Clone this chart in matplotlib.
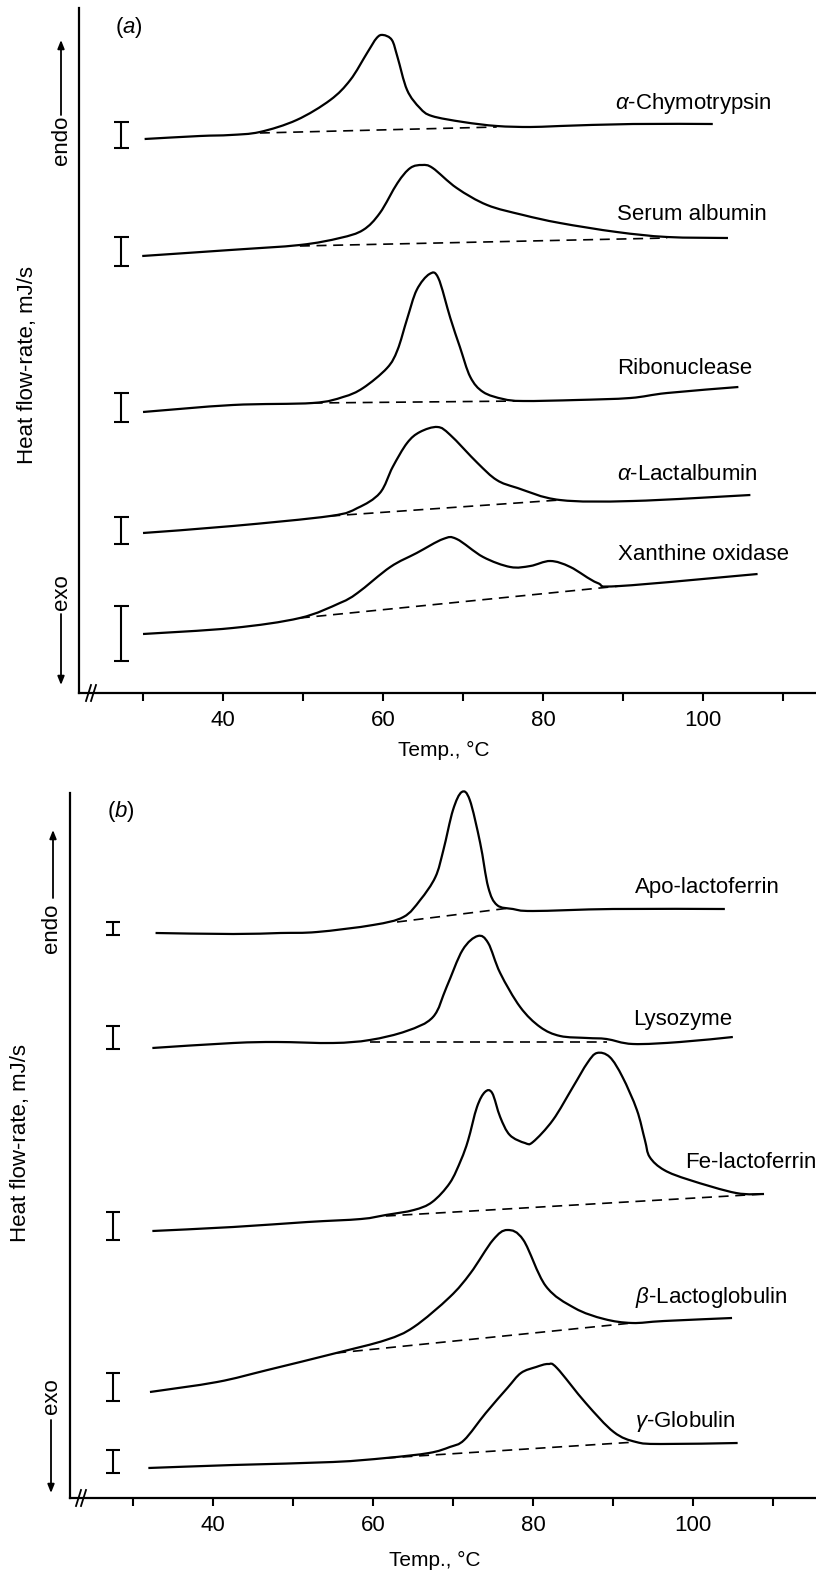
import matplotlib
matplotlib.use("Agg")
import matplotlib.pyplot as plt
import numpy as np
from matplotlib.lines import Line2D
from matplotlib.path import Path
from matplotlib.patches import PathPatch, FancyArrowPatch

plt.rcParams['font.family'] = ['Liberation Sans', 'DejaVu Sans']
plt.rcParams['mathtext.fontset'] = 'custom'
plt.rcParams['mathtext.rm'] = 'Liberation Sans'
plt.rcParams['mathtext.it'] = 'Liberation Sans:italic'

W, H = 816, 1575

# ---------------- panel (a) data: temperature (C) and heat flow (arbitrary, offset traces)
chymo_t = [30.2, 37.1, 40.9, 44.6, 49.2, 53.4, 55.9, 58.0, 59.2, 60.0, 61.1, 61.8, 63.0, 64.6, 66.1, 70.0, 74.2, 78.4, 82.1, 91.2, 101.2]
chymo_h = [554, 557, 558, 561, 573, 593, 613, 640, 655, 658, 653, 636, 603, 585, 577, 571, 567, 566, 567, 569, 569]
chymo_base = ([44.6, 74.2], [560, 566])

serum_t = [29.9, 40.9, 49.6, 54.6, 57.5, 59.6, 61.8, 63.4, 64.9, 66.2, 69.2, 73.0, 77.5, 82.1, 89.2, 95.5, 103.1]
serum_h = [437, 443, 448, 455, 463, 480, 510, 525, 528, 525, 505, 488, 478, 470, 461, 456, 455]
serum_base = ([49.6, 95.5], [447, 455])

ribo_t = [30.0, 41.2, 51.2, 55.0, 57.5, 60.5, 61.8, 63.0, 64.2, 65.8, 66.9, 68.4, 69.6, 70.9, 72.5, 75.0, 77.5, 84.2, 90.9, 95.5, 104.4]
ribo_h = [281, 288, 290, 296, 305, 325, 343, 374, 403, 419, 415, 375, 346, 316, 301, 294, 292, 293, 295, 300, 306]
ribo_base = ([51.2, 77.5], [290, 292])

lact_t = [30.0, 41.2, 53.4, 56.8, 59.6, 61.2, 63.0, 64.6, 66.8, 68.4, 71.8, 74.2, 76.8, 82.1, 91.2, 105.9]
lact_h = [160, 167, 177, 185, 200, 226, 250, 261, 266, 258, 230, 213, 205, 193, 192, 198]
lact_base = ([53.4, 82.1], [177, 193])

xan_t = [30.0, 41.2, 49.6, 54.6, 56.8, 60.9, 64.2, 67.5, 69.2, 72.5, 75.9, 78.4, 80.9, 83.4, 86.8, 89.6, 106.8]
xan_h = [59, 65, 75, 90, 100, 126, 140, 154, 154, 136, 126, 127, 132, 126, 110, 107, 119]
xan_base = ([49.6, 89.6], [75, 107])

names_a = [r'$\alpha$-Chymotrypsin', 'Serum albumin', 'Ribonuclease',
           r'$\alpha$-Lactalbumin', 'Xanthine oxidase']
curves_a = [(chymo_t, chymo_h, chymo_base), (serum_t, serum_h, serum_base),
            (ribo_t, ribo_h, ribo_base), (lact_t, lact_h, lact_base),
            (xan_t, xan_h, xan_base)]
# calibration bars (low, high)
bars_a = [(545, 571), (427, 456), (271, 300), (149, 176), (32, 87)]
label_pos_a = [(89.0, 590), (89.25, 478), (89.25, 325), (89.25, 219), (89.4, 138)]

# ---------------- panel (b) data
apo_t = [32.8, 42.5, 48.4, 53.0, 60.0, 63.8, 65.9, 67.8, 68.8, 70.0, 71.1, 72.1, 73.4, 74.4, 75.5, 77.5, 80.0, 90.0, 104.0]
apo_h = [565, 564, 565, 566, 573, 581, 598, 621, 648, 688, 706, 698, 655, 611, 593, 589, 587, 589, 589]
apo_base = ([63.0, 77.1], [576, 590])

lys_t = [32.4, 42.5, 48.0, 55.0, 59.6, 64.2, 67.5, 69.2, 71.2, 73.1, 74.4, 75.9, 78.4, 80.9, 83.4, 86.8, 89.2, 92.5, 98.4, 105.0]
lys_h = [450, 455, 456, 455, 458, 467, 481, 511, 548, 562, 555, 525, 491, 471, 462, 460, 459, 454, 456, 461]
lys_base = ([59.6, 89.2], [456, 456])

fe_t = [32.4, 42.5, 51.8, 58.5, 61.6, 65.1, 67.4, 69.6, 71.0, 71.9, 73.0, 74.0, 74.9, 75.9, 77.1, 79.0, 80.0, 82.5, 85.0, 86.8,
        88.0, 89.6, 91.2, 93.0, 94.0, 94.6, 96.4, 99.6, 105.4, 108.9]
fe_h = [267, 271, 276, 279, 283, 288, 296, 315, 338, 358, 391, 406, 405, 381, 363, 355, 356, 378, 411, 435,
        445, 441, 421, 388, 358, 341, 328, 318, 305, 304]
fe_base = ([61.6, 108.9], [282, 304])

beta_t = [32.1, 40.5, 46.8, 55.4, 61.6, 65.1, 69.6, 72.2, 75.0, 76.8, 78.8, 81.6, 85.2, 88.9, 92.4, 96.4, 104.9]
beta_h = [106, 116, 128, 145, 158, 171, 201, 225, 258, 268, 258, 212, 190, 179, 175, 177, 180]
beta_base = ([55.4, 92.4], [145, 175])

gamma_t = [31.9, 42.5, 55.0, 61.6, 67.0, 69.6, 71.4, 74.1, 76.8, 78.5, 80.4, 81.9, 83.0, 86.6, 90.1, 92.9, 96.0, 105.6]
gamma_h = [30, 33, 36, 40, 45, 51, 58, 85, 110, 125, 131, 134, 130, 95, 66, 56, 54, 55]
gamma_base = ([61.6, 92.9], [40, 56])

names_b = ['Apo-lactoferrin', 'Lysozyme', 'Fe-lactoferrin',
           r'$\beta$-Lactoglobulin', r'$\gamma$-Globulin']
curves_b = [(apo_t, apo_h, apo_base), (lys_t, lys_h, lys_base), (fe_t, fe_h, fe_base),
            (beta_t, beta_h, beta_base), (gamma_t, gamma_h, gamma_base)]
bars_b = [(563, 576), (449, 472), (258, 286), (97, 125), (25, 48)]
label_pos_b = [(92.75, 610), (92.5, 478), (99.0, 335), (92.75, 201), (92.75, 76)]

ticks = [30, 40, 50, 60, 70, 80, 90, 100, 110]
tick_labels = ['', '40', '', '60', '', '80', '', '100', '']

FS = 16


def fig_xy(x, y):
    # reference pixel (top-left origin) -> figure fraction
    return x / W, 1 - y / H


def smooth_path(t, h):
    # draw the read points as a Catmull-Rom style bezier so the trace is not jagged
    p = np.column_stack([t, h]).astype(float)
    verts = [p[0]]
    codes = [Path.MOVETO]
    n = len(p)
    for i in range(n - 1):
        p0 = p[i - 1] if i > 0 else p[i]
        p3 = p[i + 2] if i + 2 < n else p[i + 1]
        c1 = p[i] + (p[i + 1] - p0) / 6.0
        c2 = p[i + 1] - (p3 - p[i]) / 6.0
        verts += [c1, c2, p[i + 1]]
        codes += [Path.CURVE4] * 3
    return Path(verts, codes)


def draw_panel(ax, curves, names, bars, label_pos, bar_t, xlim, ylim):
    for (t, h, base), name, (lo, hi), (lx, ly) in zip(curves, names, bars, label_pos):
        ax.add_patch(PathPatch(smooth_path(t, h), facecolor='none', edgecolor='black',
                               lw=1.6, joinstyle='round', clip_on=False))
        ax.plot(base[0], base[1], color='black', lw=1.2, linestyle=(0, (6, 4)))
        ax.vlines(bar_t, lo, hi, color='black', lw=1.5)
        ax.hlines([lo, hi], bar_t - 0.9, bar_t + 0.9, color='black', lw=1.5)
        ax.text(lx, ly, name, fontsize=FS, ha='left', va='center')
    ax.set_xlim(*xlim)
    ax.set_ylim(*ylim)
    for s in ['top', 'right']:
        ax.spines[s].set_visible(False)
    for s in ['left', 'bottom']:
        ax.spines[s].set_linewidth(1.6)
    ax.set_yticks([])
    ax.set_xticks(ticks)
    ax.set_xticklabels(tick_labels, fontsize=FS)
    ax.tick_params(axis='x', direction='out', length=6, width=1.5, pad=6)


def side_decor(fig, ylabel_xy, endo_xy, endo_arrow, exo_xy, exo_arrow, brk, xlabel_xy, tag, tag_xy):
    fig.text(*fig_xy(*ylabel_xy), 'Heat flow-rate, mJ/s', rotation=90, fontsize=FS,
             ha='center', va='center')
    fig.text(*fig_xy(*endo_xy), 'endo', rotation=90, fontsize=FS, ha='center', va='center')
    fig.text(*fig_xy(*exo_xy), 'exo', rotation=90, fontsize=FS, ha='center', va='center')
    for (x0, y0, x1, y1) in [endo_arrow, exo_arrow]:
        fig.add_artist(FancyArrowPatch(
            fig_xy(x0, y0), fig_xy(x1, y1), transform=fig.transFigure,
            arrowstyle='-|>,head_length=5,head_width=2', color='black', lw=1.3,
            shrinkA=0, shrinkB=0))
    for (x0, y0, x1, y1) in brk:
        a, b = fig_xy(x0, y0)
        c, d = fig_xy(x1, y1)
        fig.add_artist(Line2D([a, c], [b, d], transform=fig.transFigure, color='black', lw=1.3))
    fig.text(*fig_xy(*xlabel_xy), 'Temp., \u00b0C', fontsize=15, ha='center', va='center')
    fig.text(*fig_xy(*tag_xy), tag, fontsize=FS, ha='left', va='center')


fig = plt.figure(figsize=(W / 100, H / 100), dpi=100)

ax_a = fig.add_axes([79 / W, (H - 693) / H, (W - 79) / W, 685 / H])
draw_panel(ax_a, curves_a, names_a, bars_a, label_pos_a, 27.3, (22.0, 114.1), (0, 685))
side_decor(fig, (28, 365), (61, 140), (61, 115, 61, 40), (61, 592), (61, 614, 61, 685),
           [(86, 701, 91, 685), (91, 701, 96, 685)], (444, 750), r'($\mathit{a}$)', (115, 27))

ax_b = fig.add_axes([70 / W, (H - 1498) / H, (W - 70) / W, 705 / H])
draw_panel(ax_b, curves_b, names_b, bars_b, label_pos_b, 27.5, (22.1, 115.4), (0, 705))
side_decor(fig, (21, 1143), (52, 928), (53, 898, 53, 830), (51, 1396), (51, 1420, 51, 1493),
           [(76, 1506, 81, 1490), (81, 1506, 86, 1490)], (435, 1560), r'($\mathit{b}$)', (107, 812))

fig.savefig('out.png', dpi=100)
